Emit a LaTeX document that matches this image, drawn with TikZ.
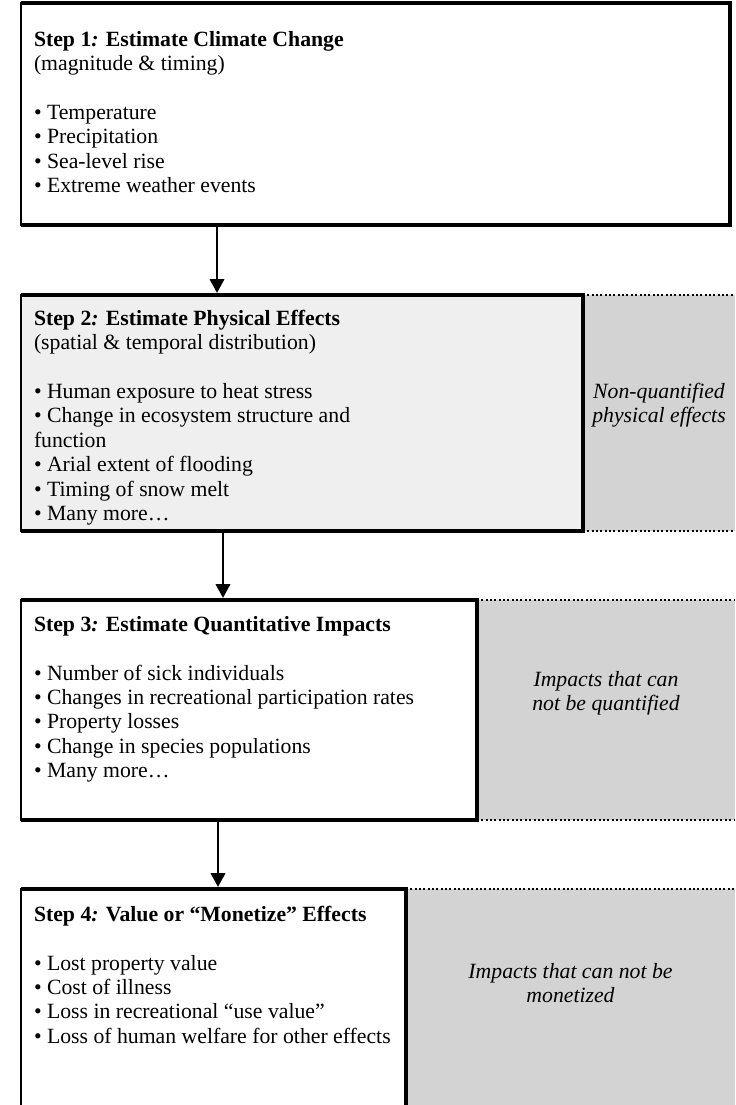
\documentclass[tikz,border=0pt]{standalone}
\usepackage{fontspec}
\setmainfont{Liberation Serif}
\usepackage{xcolor}
\usetikzlibrary{positioning,arrows.meta,calc}
\newcommand{\pxu}{0.552pt}
\definecolor{sidegray}{HTML}{D3D3D3}
\definecolor{boxgray}{HTML}{EFEFEF}
\tikzset{
  flow/.style={-{Triangle[width=8pt,length=7.5pt]}, line width=1.0pt, draw=black, shorten <=1.2pt, shorten >=1.2pt},
  every node/.style={inner sep=0pt, outer sep=0pt}
}

\begin{document}
\begin{tikzpicture}[
  x=\pxu, y=-\pxu,
  font=\fontsize{12}{13.5}\selectfont,
  stepbox/.style={draw=black, fill=white, line width=0.8pt, anchor=north west},
  sidebox/.style={fill=sidegray, anchor=north west},
  heavyedge/.style={draw=black, line width=2.5pt},
  dotline/.style={draw=black, line width=1.1pt, dash pattern=on 1.1pt off 1.3pt},
  steptext/.style={anchor=north west, align=left},
  sidetext/.style={align=center, font=\fontsize{12}{13.5}\selectfont\itshape}
]
\clip (0,0) rectangle (735,1105);
\node[sidebox, minimum width=152*\pxu, minimum height=236*\pxu] (g2) at (583,295) {};
\node[sidebox, minimum width=258*\pxu, minimum height=220*\pxu] (g3) at (477,600) {};
\node[sidebox, minimum width=329*\pxu, minimum height=230*\pxu] (g4) at (406,889) {};
\node[stepbox, minimum width=709*\pxu, minimum height=222*\pxu] (s1) at (21,3) {};
\node[stepbox, fill=boxgray, minimum width=562*\pxu, minimum height=236*\pxu] (s2) at (21,295) {};
\node[stepbox, minimum width=456*\pxu, minimum height=220*\pxu] (s3) at (21,600) {};
\node[stepbox, minimum width=385*\pxu, minimum height=230*\pxu] (s4) at (21,889) {};
\foreach \s in {s1,s2,s3,s4}
  \draw[heavyedge] (\s.north west) -- (\s.north east) -- (\s.south east) -- (\s.south west);
\foreach \g in {g2,g3,g4} {
  \draw[dotline] (\g.north west) -- (\g.north east);
  \draw[dotline] (\g.south west) -- (\g.south east);
}
\node[steptext] (t1) at ($(s1.north west)+(13,26)$) {\strut\textbf{Step 1\textit{:} Estimate Climate Change}\\
  (magnitude \& timing)\\ ~\\
  • Temperature\\ • Precipitation\\ • Sea-level rise\\ • Extreme weather events};
\node[steptext] (t2) at ($(s2.north west)+(13,13)$) {\strut\textbf{Step 2\textit{:} Estimate Physical Effects}\\
  (spatial \& temporal distribution)\\ ~\\
  • Human exposure to heat stress\\ • Change in ecosystem structure and\\ function\\
  • Arial extent of flooding\\ • Timing of snow melt\\ • Many more…};
\node[steptext] (t3) at ($(s3.north west)+(13,14)$) {\strut\textbf{Step 3\textit{:} Estimate Quantitative Impacts}\\ ~\\
  • Number of sick individuals\\ • Changes in recreational participation rates\\
  • Property losses\\ • Change in species populations\\ • Many more…};
\node[steptext] (t4) at ($(s4.north west)+(13,15)$) {\strut\textbf{Step 4\textit{:} Value or “Monetize” Effects}\\ ~\\
  • Lost property value\\ • Cost of illness\\ • Loss in recreational “use value”\\
  • Loss of human welfare for other effects};
\node[sidetext] (n2) at ($(g2.north)+(0,110)$) {Non-quantified\\ physical effects};
\node[sidetext] (n3) at ($(g3.north)+(0,93)$) {Impacts that can\\ not be quantified};
\node[sidetext] (n4) at ($(g4.north)+(0,94)$) {Impacts that can not be\\ monetized};
\draw[flow] ($(s1.south west)+(196,0)$) -- ($(s2.north west)+(196,0)$);
\draw[flow] ($(s2.south west)+(202,0)$) -- ($(s3.north west)+(202,0)$);
\draw[flow] ($(s3.south west)+(197,0)$) -- ($(s4.north west)+(197,0)$);
\end{tikzpicture}
\end{document}
